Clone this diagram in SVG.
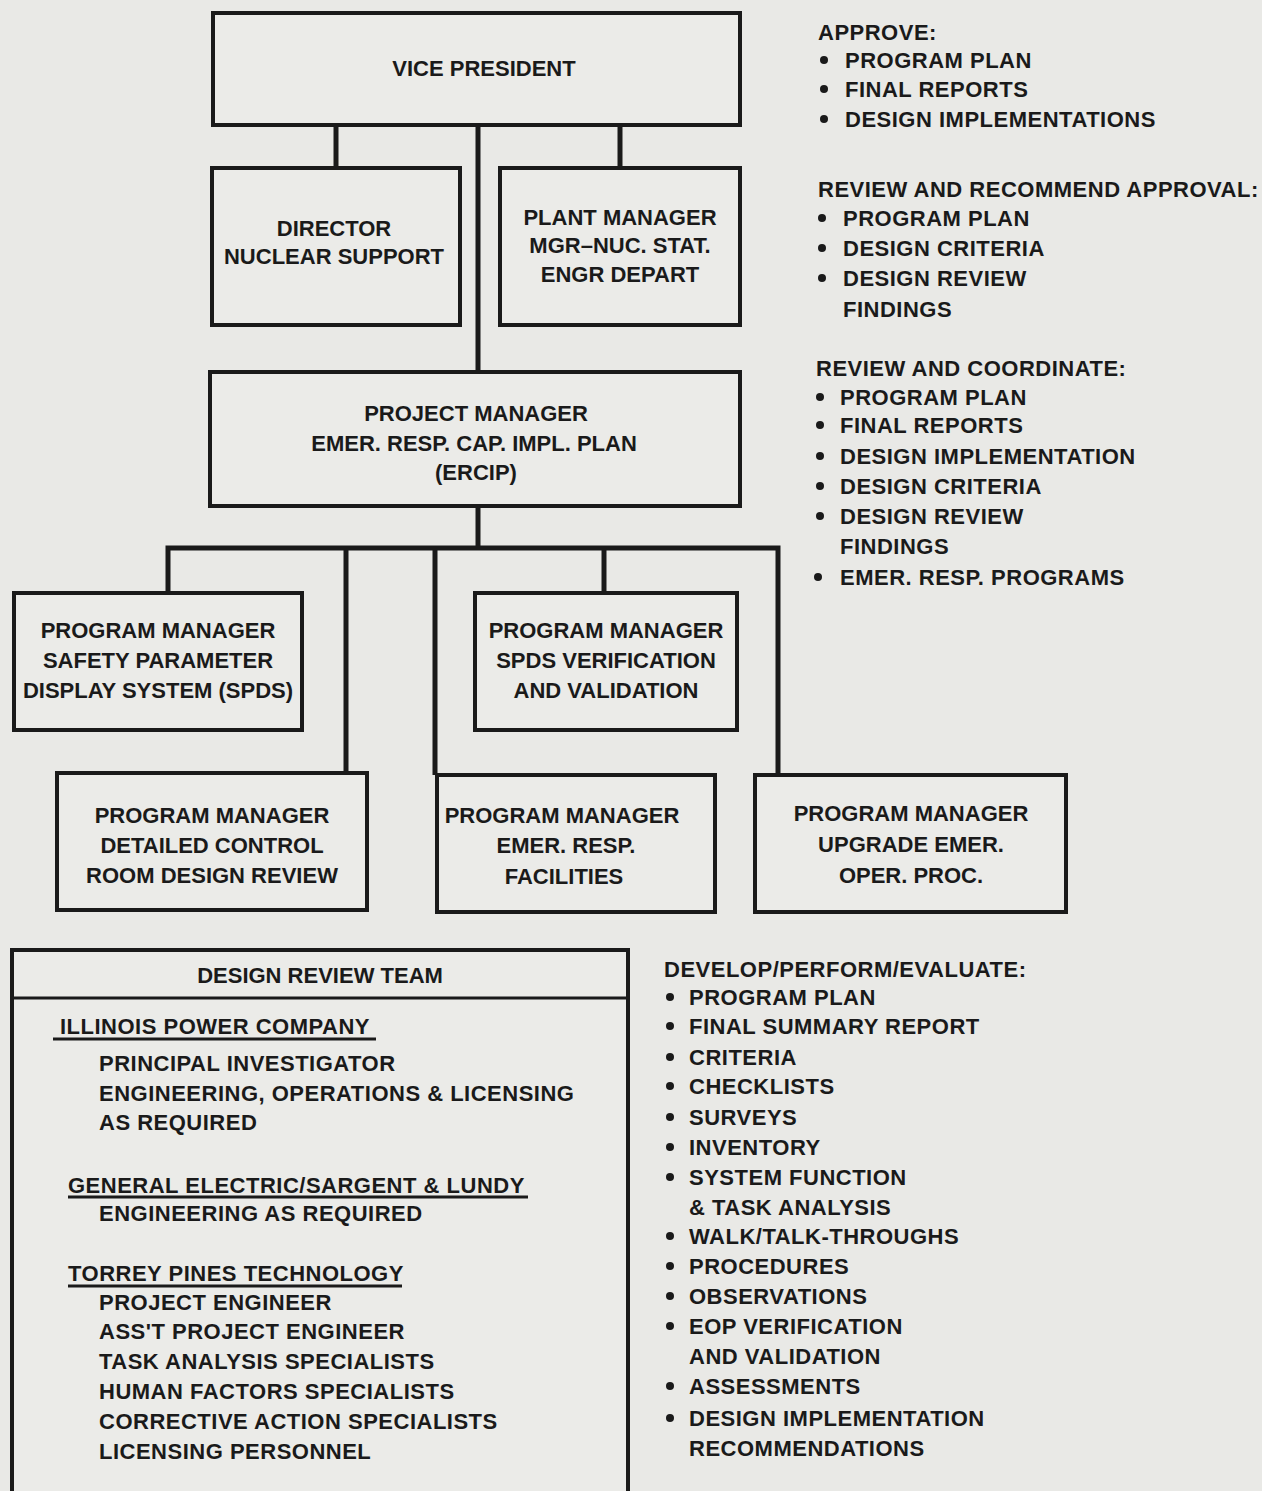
<svg xmlns="http://www.w3.org/2000/svg" width="1262" height="1491" viewBox="0 0 1262 1491">
<style>
.bg{fill:#e9e9e6}
.box{fill:#ebebe8;stroke:#1a1a1a;stroke-width:4}
.ln{fill:none;stroke:#1a1a1a;stroke-width:5}
.ul{fill:none;stroke:#1a1a1a;stroke-width:3}
text{font-family:"Liberation Sans",Arial,sans-serif;font-weight:bold;font-size:22px;letter-spacing:0.5px;fill:#1a1a1a}
.c{text-anchor:middle;letter-spacing:0px}
.b{fill:#1a1a1a}
</style>
<rect class="bg" x="0" y="0" width="1262" height="1491"/>
<g id="connectors">
<path class="ln" d="M336 125 V168"/>
<path class="ln" d="M620 125 V168"/>
<path class="ln" d="M478 125 V372"/>
<path class="ln" d="M478 506 V548"/>
<path class="ln" d="M168 593 V548 H778 V775"/>
<path class="ln" d="M346 548 V773"/>
<path class="ln" d="M435 548 V775"/>
<path class="ln" d="M604 548 V593"/>
</g>
<g id="vp"><rect class="box" x="213" y="13" width="527" height="112"/><text class="c" x="484" y="76">VICE PRESIDENT</text></g>
<g id="director"><rect class="box" x="212" y="168" width="248" height="157"/><text class="c" x="334" y="236">DIRECTOR</text><text class="c" x="334" y="264">NUCLEAR SUPPORT</text></g>
<g id="plant"><rect class="box" x="500" y="168" width="240" height="157"/><text class="c" x="620" y="225">PLANT MANAGER</text><text class="c" x="620" y="253">MGR–NUC. STAT.</text><text class="c" x="620" y="282">ENGR DEPART</text></g>
<g id="project"><rect class="box" x="210" y="372" width="530" height="134"/><text class="c" x="476" y="421">PROJECT MANAGER</text><text class="c" x="474" y="451">EMER. RESP. CAP. IMPL. PLAN</text><text class="c" x="476" y="480">(ERCIP)</text></g>
<g id="spds"><rect class="box" x="14" y="593" width="288" height="137"/><text class="c" x="158" y="638">PROGRAM MANAGER</text><text class="c" x="158" y="668">SAFETY PARAMETER</text><text class="c" x="158" y="698">DISPLAY SYSTEM (SPDS)</text></g>
<g id="spdsvv"><rect class="box" x="475" y="593" width="262" height="137"/><text class="c" x="606" y="638">PROGRAM MANAGER</text><text class="c" x="606" y="668">SPDS VERIFICATION</text><text class="c" x="606" y="698">AND VALIDATION</text></g>
<g id="dcrdr"><rect class="box" x="57" y="773" width="310" height="137"/><text class="c" x="212" y="823">PROGRAM MANAGER</text><text class="c" x="212" y="853">DETAILED CONTROL</text><text class="c" x="212" y="883">ROOM DESIGN REVIEW</text></g>
<g id="erf"><rect class="box" x="437" y="775" width="278" height="137"/><text class="c" x="562" y="823">PROGRAM MANAGER</text><text class="c" x="566" y="853">EMER. RESP.</text><text class="c" x="564" y="884">FACILITIES</text></g>
<g id="eop"><rect class="box" x="755" y="775" width="311" height="137"/><text class="c" x="911" y="821">PROGRAM MANAGER</text><text class="c" x="911" y="852">UPGRADE EMER.</text><text class="c" x="911" y="883">OPER. PROC.</text></g>
<g id="team">
<rect class="box" x="12" y="950" width="616" height="545"/>
<path class="ul" d="M12 998 H628"/>
<text class="c" x="320" y="983">DESIGN REVIEW TEAM</text>
<text x="60" y="1034">ILLINOIS POWER COMPANY</text>
<path class="ul" d="M53 1039 H376"/>
<text x="99" y="1071">PRINCIPAL INVESTIGATOR</text>
<text x="99" y="1101">ENGINEERING, OPERATIONS &amp; LICENSING</text>
<text x="99" y="1130">AS REQUIRED</text>
<text x="68" y="1193">GENERAL ELECTRIC/SARGENT &amp; LUNDY</text>
<path class="ul" d="M68 1197 H528"/>
<text x="99" y="1221">ENGINEERING AS REQUIRED</text>
<text x="68" y="1281">TORREY PINES TECHNOLOGY</text>
<path class="ul" d="M68 1286 H402"/>
<text x="99" y="1310">PROJECT ENGINEER</text>
<text x="99" y="1339">ASS'T PROJECT ENGINEER</text>
<text x="99" y="1369">TASK ANALYSIS SPECIALISTS</text>
<text x="99" y="1399">HUMAN FACTORS SPECIALISTS</text>
<text x="99" y="1429">CORRECTIVE ACTION SPECIALISTS</text>
<text x="99" y="1459">LICENSING PERSONNEL</text>
</g>
<g id="approve">
<text x="818" y="40">APPROVE:</text>
<circle class="b" cx="824" cy="60" r="4"/><text x="845" y="68">PROGRAM PLAN</text>
<circle class="b" cx="824" cy="89" r="4"/><text x="845" y="97">FINAL REPORTS</text>
<circle class="b" cx="824" cy="119" r="4"/><text x="845" y="127">DESIGN IMPLEMENTATIONS</text>
</g>
<g id="recommend">
<text x="818" y="197">REVIEW AND RECOMMEND APPROVAL:</text>
<circle class="b" cx="822" cy="218" r="4"/><text x="843" y="226">PROGRAM PLAN</text>
<circle class="b" cx="822" cy="248" r="4"/><text x="843" y="256">DESIGN CRITERIA</text>
<circle class="b" cx="822" cy="278" r="4"/><text x="843" y="286">DESIGN REVIEW</text>
<text x="843" y="317">FINDINGS</text>
</g>
<g id="coordinate">
<text x="816" y="376">REVIEW AND COORDINATE:</text>
<circle class="b" cx="820" cy="397" r="4"/><text x="840" y="405">PROGRAM PLAN</text>
<circle class="b" cx="820" cy="425" r="4"/><text x="840" y="433">FINAL REPORTS</text>
<circle class="b" cx="820" cy="456" r="4"/><text x="840" y="464">DESIGN IMPLEMENTATION</text>
<circle class="b" cx="820" cy="486" r="4"/><text x="840" y="494">DESIGN CRITERIA</text>
<circle class="b" cx="820" cy="516" r="4"/><text x="840" y="524">DESIGN REVIEW</text>
<text x="840" y="554">FINDINGS</text>
<circle class="b" cx="818" cy="577" r="4"/><text x="840" y="585">EMER. RESP. PROGRAMS</text>
</g>
<g id="develop">
<text x="664" y="977">DEVELOP/PERFORM/EVALUATE:</text>
<circle class="b" cx="670" cy="997" r="4"/><text x="689" y="1005">PROGRAM PLAN</text>
<circle class="b" cx="670" cy="1026" r="4"/><text x="689" y="1034">FINAL SUMMARY REPORT</text>
<circle class="b" cx="670" cy="1057" r="4"/><text x="689" y="1065">CRITERIA</text>
<circle class="b" cx="670" cy="1086" r="4"/><text x="689" y="1094">CHECKLISTS</text>
<circle class="b" cx="670" cy="1117" r="4"/><text x="689" y="1125">SURVEYS</text>
<circle class="b" cx="670" cy="1147" r="4"/><text x="689" y="1155">INVENTORY</text>
<circle class="b" cx="670" cy="1177" r="4"/><text x="689" y="1185">SYSTEM FUNCTION</text>
<text x="689" y="1215">&amp; TASK ANALYSIS</text>
<circle class="b" cx="670" cy="1236" r="4"/><text x="689" y="1244">WALK/TALK-THROUGHS</text>
<circle class="b" cx="670" cy="1266" r="4"/><text x="689" y="1274">PROCEDURES</text>
<circle class="b" cx="670" cy="1296" r="4"/><text x="689" y="1304">OBSERVATIONS</text>
<circle class="b" cx="670" cy="1326" r="4"/><text x="689" y="1334">EOP VERIFICATION</text>
<text x="689" y="1364">AND VALIDATION</text>
<circle class="b" cx="670" cy="1386" r="4"/><text x="689" y="1394">ASSESSMENTS</text>
<circle class="b" cx="670" cy="1418" r="4"/><text x="689" y="1426">DESIGN IMPLEMENTATION</text>
<text x="689" y="1456">RECOMMENDATIONS</text>
</g>
</svg>
